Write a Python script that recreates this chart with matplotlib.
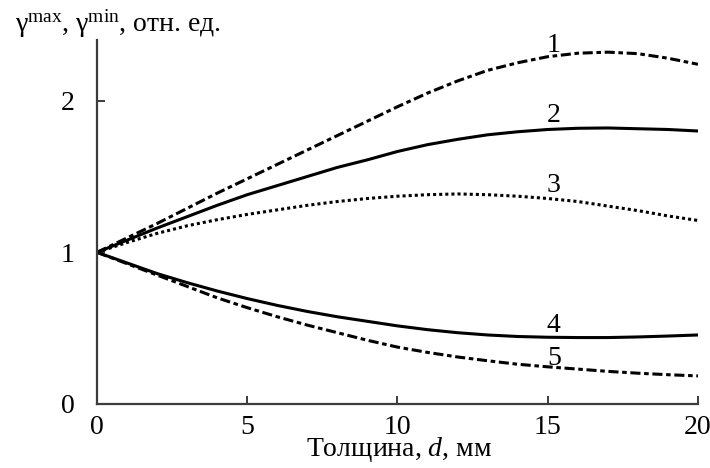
import numpy as np
import matplotlib
matplotlib.use("Agg")
import matplotlib.pyplot as plt

plt.rcParams['font.family'] = ['Liberation Serif', 'DejaVu Serif']
plt.rcParams['mathtext.fontset'] = 'custom'
plt.rcParams['mathtext.rm'] = 'Liberation Serif'
plt.rcParams['mathtext.it'] = 'Liberation Serif:italic'

# thickness d, mm
d = list(range(0, 21))

# curves
g1 = [1.00, 1.095, 1.19, 1.29, 1.39, 1.485, 1.58, 1.675, 1.77, 1.865, 1.96,
      2.05, 2.13, 2.20, 2.25, 2.29, 2.313, 2.32, 2.31, 2.28, 2.24]
g2 = [1.00, 1.08, 1.16, 1.235, 1.31, 1.38, 1.44, 1.50, 1.56, 1.61, 1.665,
      1.71, 1.745, 1.775, 1.795, 1.81, 1.818, 1.82, 1.815, 1.81, 1.80]
g3 = [1.00, 1.065, 1.125, 1.175, 1.215, 1.25, 1.28, 1.31, 1.335, 1.355, 1.37,
      1.38, 1.385, 1.38, 1.37, 1.355, 1.335, 1.305, 1.275, 1.24, 1.21]
g4 = [1.00, 0.93, 0.86, 0.80, 0.745, 0.695, 0.65, 0.61, 0.575, 0.545, 0.515,
      0.49, 0.47, 0.455, 0.445, 0.44, 0.438, 0.438, 0.442, 0.448, 0.455]
g5 = [1.00, 0.925, 0.85, 0.775, 0.70, 0.635, 0.575, 0.52, 0.47, 0.42, 0.375,
      0.34, 0.31, 0.285, 0.262, 0.245, 0.23, 0.215, 0.203, 0.193, 0.185]

curve_labels = ["1", "2", "3", "4", "5"]
label_x = [15.2, 15.2, 15.2, 15.2, 15.2]
label_y = [2.32, 1.86, 1.40, 0.475, 0.257]

xticks = [0, 5, 10, 15, 20]
yticks = [0, 1, 2]

fig = plt.figure(figsize=(7.1, 4.68), dpi=100)
ax = fig.add_axes([0.1366, 0.1368, 0.8465, 0.7777])

lw = 2.2
dashdot = (0, (3.3, 1.2, 1.5, 1.2))
ax.plot(d, g1, color='black', lw=lw, linestyle=dashdot)
ax.plot(d, g2, color='black', lw=lw, linestyle='-')
ax.plot(d, g3, color='black', lw=lw, linestyle=(0, (1, 1)))
ax.plot(d, g4, color='black', lw=lw, linestyle='-')
ax.plot(d, g5, color='black', lw=lw, linestyle=dashdot)

for t, x, y in zip(curve_labels, label_x, label_y):
    ax.text(x, y, t, ha='center', va='baseline', fontsize=20)

ax.set_xlim(0, 20)
ax.set_ylim(0, 2.4)
ax.set_xticks(xticks)
ax.set_yticks(yticks)
ax.spines['top'].set_visible(False)
ax.spines['right'].set_visible(False)
for s in ['left', 'bottom']:
    ax.spines[s].set_color('#3c3c3c')
    ax.spines[s].set_linewidth(1.6)
ax.tick_params(direction='in', length=6, width=1.4, color='#3c3c3c',
               labelsize=20)
ax.tick_params(axis='y', pad=16)
ax.tick_params(axis='x', pad=8)

fig.text(15 / 710, 1 - 32 / 468,
         r"$\mathrm{γ}^{\mathrm{max}}$, $\mathrm{γ}^{\mathrm{min}}$, отн. ед.",
         fontsize=20, va='baseline', ha='left')
fig.text(399 / 710, 1 - 456 / 468, r"Толщина, $\mathit{d}$, мм",
         fontsize=20, va='baseline', ha='center')

fig.savefig("out.png", dpi=100)
